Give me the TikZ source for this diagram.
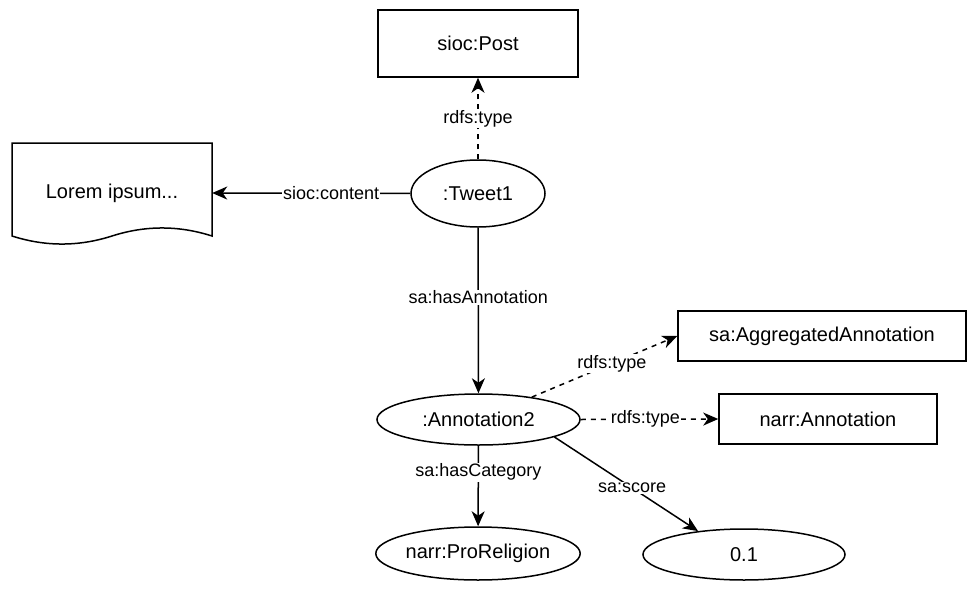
\documentclass[tikz,border=0pt]{standalone}
\usepackage{fontspec}
\setmainfont{Liberation Sans}
\usetikzlibrary{arrows.meta,shapes.geometric}
\begin{document}
\begin{tikzpicture}[x=1pt,y=-1pt,
  lw/.style={line width=1.5pt},
  box/.style={draw, lw, rectangle, inner sep=0pt, font=\fontsize{20}{24}\selectfont},
  oval/.style={draw, lw, ellipse, inner sep=0pt, font=\fontsize{20}{24}\selectfont},
  tipstyle/.tip={Stealth[length=15pt,width=13pt,inset=4.5pt]},
  conn/.style={lw, -tipstyle},
  dashconn/.style={conn, dash pattern=on 5pt off 5pt},
  lbl/.style={fill=white, inner sep=1pt, font=\fontsize{18}{22}\selectfont},
]
\useasboundingbox (0,0) rectangle (967,592);

\node[box, minimum width=200pt, minimum height=67pt] (post) at (478,43.5) {sioc:Post};
\node[oval, minimum width=134pt, minimum height=67pt] (tweet) at (478,193.5) {:Tweet1};
\node[rectangle, inner sep=0pt, minimum width=200pt, minimum height=100pt,
      font=\fontsize{20}{24}\selectfont] (doc) at (112,193) {Lorem ipsum...};
\draw[lw] (12,143) -- (212,143) -- (212,236)
  .. controls (178.7,225.3) and (145.3,225.3) .. (112,236)
  .. controls (78.7,246.7) and (45.3,246.7) .. (12,236) -- cycle;
\node[oval, minimum width=203pt, minimum height=51pt] (ann) at (478.5,419.5) {:Annotation2};
\node[box, minimum width=288pt, minimum height=50pt] (aggr) at (822,336) {sa:AggregatedAnnotation};
\node[box, minimum width=218pt, minimum height=50pt] (narrann) at (828,419) {narr:Annotation};
\node[oval, minimum width=202pt, minimum height=53pt] (prorel) at (478,553.5) {narr:ProReligion};
\node[oval, minimum width=202pt, minimum height=51pt] (score) at (744,554.5) {0.1};

\draw[dashconn] (tweet) -- node[lbl, pos=0.5] {rdfs:type} (post);
\draw[conn] (tweet) -- node[lbl, pos=0.4] {sioc:content} (doc.east);
\draw[conn] (tweet) -- node[lbl, pos=0.42] {sa:hasAnnotation} (ann);
\draw[dashconn] (ann) -- node[lbl, pos=0.55] {rdfs:type} (aggr.west);
\draw[dashconn] (ann.east) -- node[lbl, pos=0.47] {rdfs:type} (narrann.west);
\draw[conn] (ann) -- node[lbl, pos=0.33] {sa:hasCategory} (prorel);
\draw[conn] (ann.-13.3) -- node[lbl, pos=0.54] {sa:score} (score.153);
\end{tikzpicture}
\end{document}
